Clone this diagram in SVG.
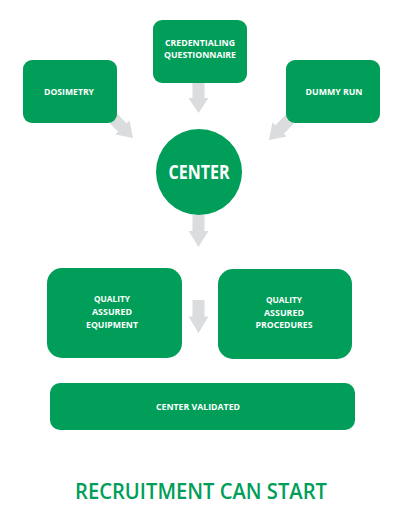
<svg xmlns="http://www.w3.org/2000/svg" width="400" height="531" viewBox="0 0 400 531">
<defs>
<style>
.box{fill:#009e58}
.arr{fill:#dbdcdd}
.t{fill:#ffffff;font-family:"Open Sans","Liberation Sans",sans-serif;font-weight:bold;font-size:9px;text-anchor:middle}
.big{fill:#ffffff;font-family:"Open Sans","Liberation Sans",sans-serif;font-weight:bold;font-size:19px;text-anchor:middle}
.title{fill:#009e58;font-family:"Open Sans","Liberation Sans",sans-serif;font-weight:600;font-size:22px;text-anchor:middle}
</style>
<path id="ar" d="M-6,-30 H6 V-15 H10 L0,0 L-10,-15 H-6 Z"/>
</defs>
<rect width="400" height="531" fill="#ffffff"/>
<g id="connectors" class="arr">
<use href="#ar" transform="translate(198.5,113)"/>
<use href="#ar" transform="translate(133,138) rotate(-45)"/>
<use href="#ar" transform="translate(269,140) rotate(45)"/>
<use href="#ar" transform="translate(198.5,247) scale(1,1.07)"/>
<use href="#ar" transform="translate(198.5,333) scale(1,1.1)"/>
</g>
<g id="credentialing">
<rect class="box" x="153" y="20" width="94" height="63" rx="9"/>
<text class="t" x="200" y="46" textLength="70" lengthAdjust="spacingAndGlyphs">CREDENTIALING</text>
<text class="t" x="200" y="58" textLength="72" lengthAdjust="spacingAndGlyphs">QUESTIONNAIRE</text>
</g>
<g id="dosimetry">
<rect class="box" x="23" y="60" width="94" height="63" rx="9"/>
<text class="t" x="69" y="95" textLength="50" lengthAdjust="spacingAndGlyphs">DOSIMETRY</text>
</g>
<g id="dummyrun">
<rect class="box" x="286" y="60" width="94" height="63" rx="9"/>
<text class="t" x="334" y="95" textLength="57" lengthAdjust="spacingAndGlyphs">DUMMY RUN</text>
</g>
<g id="center">
<circle class="box" cx="199" cy="172" r="43"/>
<text class="big" x="199" y="179" textLength="61" lengthAdjust="spacingAndGlyphs">CENTER</text>
</g>
<g id="qa-equipment">
<rect class="box" x="47" y="268" width="135" height="90" rx="15"/>
<text class="t" x="112" y="302" textLength="36" lengthAdjust="spacingAndGlyphs">QUALITY</text>
<text class="t" x="112" y="315" textLength="40" lengthAdjust="spacingAndGlyphs">ASSURED</text>
<text class="t" x="112" y="328" textLength="52" lengthAdjust="spacingAndGlyphs">EQUIPMENT</text>
</g>
<g id="qa-procedures">
<rect class="box" x="218" y="269" width="134" height="90" rx="15"/>
<text class="t" x="284" y="303" textLength="36" lengthAdjust="spacingAndGlyphs">QUALITY</text>
<text class="t" x="284" y="316" textLength="40" lengthAdjust="spacingAndGlyphs">ASSURED</text>
<text class="t" x="284" y="328" textLength="57" lengthAdjust="spacingAndGlyphs">PROCEDURES</text>
</g>
<g id="center-validated">
<rect class="box" x="50" y="383" width="305" height="47" rx="10"/>
<text class="t" x="198" y="410" textLength="84" lengthAdjust="spacingAndGlyphs">CENTER VALIDATED</text>
</g>
<g id="recruitment">
<text class="title" x="201" y="499" textLength="252" lengthAdjust="spacingAndGlyphs">RECRUITMENT CAN START</text>
</g>
</svg>
